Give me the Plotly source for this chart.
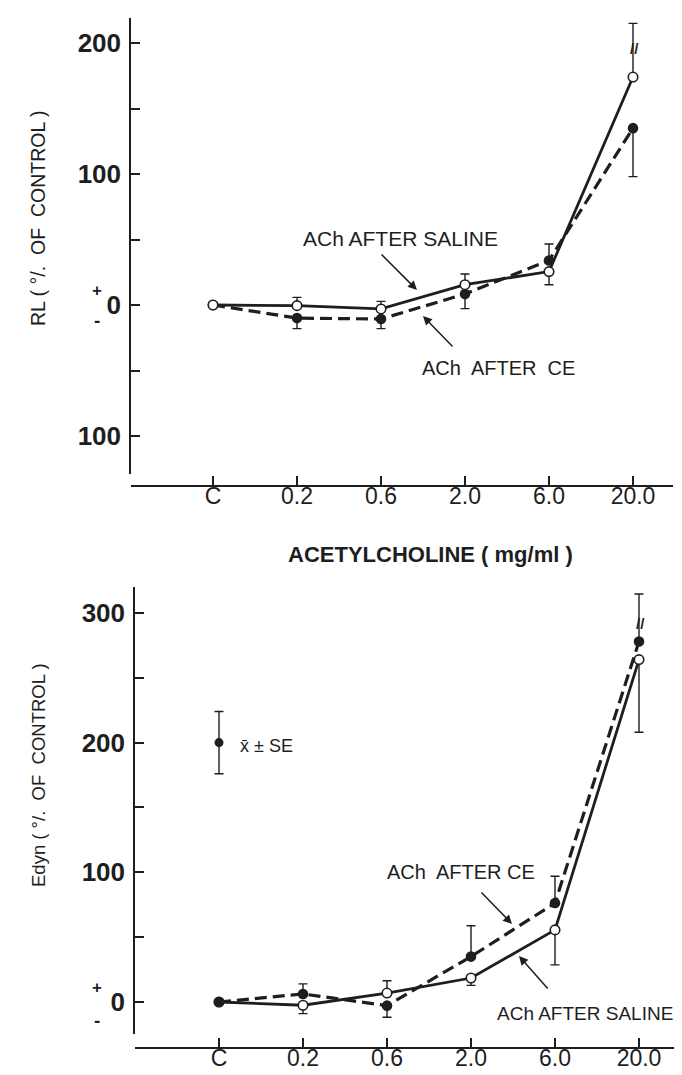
import plotly.graph_objects as go

# ---------------- data ----------------
categories = ["C", "0.2", "0.6", "2.0", "6.0", "20.0"]

# Top panel: RL (% of control)
rl_saline = [0, -0.5, -3, 15.5, 25.5, 174]
rl_saline_err_up = [None, 6.3, 5.8, 8.2, 0, 41]
rl_saline_err_down = [None, 0, 0, 0, 10, 0]
rl_ce = [0, -10, -10.7, 8.4, 34, 135]
rl_ce_err_up = [None, 0, 0, 0, 12.6, 0]
rl_ce_err_down = [None, 8, 7.3, 11.2, 0, 37]

# Bottom panel: Edyn (% of control)
edyn_saline = [0, -2.5, 6.9, 18.5, 55.6, 264]
edyn_saline_err_up = [None, 0, 9.5, 0, 0, 0]
edyn_saline_err_down = [None, 6.5, 0, 5.7, 27, 56]
edyn_ce = [0, 6.2, -2.8, 35, 76.3, 278]
edyn_ce_err_up = [None, 7.8, 0, 23.8, 20.7, 36.6]
edyn_ce_err_down = [None, 0, 9, 0, 0, 0]

# key symbol (mean +/- SE)
key_x = [0]
key_y = [200]
key_err = [24]

top_ticks = [-100, -50, 0, 50, 100, 150, 200]
top_ticktext = ["100", "", "0", "", "100", "", "200"]
bot_ticks = [0, 50, 100, 150, 200, 250, 300]
bot_ticktext = ["0", "", "100", "", "200", "", "300"]

# ---------------- layout helpers ----------------
W, H = 682, 1075
def px(x):
    return x / W
def py(y):
    return 1 - y / H

FONT = "Liberation Sans, Arial, sans-serif"
INK = "#1e1e1e"
xs = list(range(len(categories)))

fig = go.Figure()

def add_series(y, up, down, xa, ya, filled, dash):
    fig.add_trace(go.Scatter(
        x=xs, y=y, xaxis=xa, yaxis=ya, mode="lines+markers",
        line=dict(color=INK, width=3.2 if dash else 2.8, dash=dash),
        marker=dict(size=9 if filled else 9.5,
                    color=INK if filled else "white",
                    line=dict(color=INK, width=1.6)),
        error_y=dict(type="data", symmetric=False, array=up, arrayminus=down,
                     color=INK, thickness=1.4, width=4.5),
        showlegend=False, hoverinfo="skip"))

add_series(rl_ce, rl_ce_err_up, rl_ce_err_down, "x", "y", True, "12px,6px")
add_series(rl_saline, rl_saline_err_up, rl_saline_err_down, "x", "y", False, None)
add_series(edyn_saline, edyn_saline_err_up, edyn_saline_err_down, "x2", "y2", False, None)
add_series(edyn_ce, edyn_ce_err_up, edyn_ce_err_down, "x2", "y2", True, "12px,6px")

fig.add_trace(go.Scatter(
    x=key_x, y=key_y, xaxis="x2", yaxis="y2", mode="markers",
    marker=dict(size=9, color=INK),
    error_y=dict(type="data", array=key_err, color=INK, thickness=1.4, width=4.5),
    showlegend=False, hoverinfo="skip"))

axis_common = dict(showline=True, linecolor=INK, linewidth=1.5, showgrid=False,
                   zeroline=False, ticks="inside", tickcolor=INK, tickwidth=1.5)

# panel geometry (pixels)
tx0, tx1, tc = 123, 665, 205
bx0, bx1, bc = 127, 682, 211
step = 84.0

xtickfont = dict(family=FONT, size=23, color=INK)
ytickfont = dict(family=FONT, size=26, color=INK, weight="bold")

fig.update_layout(
    width=W, height=H, margin=dict(l=0, r=0, t=0, b=0),
    paper_bgcolor="white", plot_bgcolor="white",
    xaxis=dict(**axis_common, domain=[px(tx0), px(tx1)],
               range=[-(tc - tx0) / step, -(tc - tx0) / step + (tx1 - tx0) / step],
               anchor="free", position=py(478), ticklen=9,
               tickvals=xs, ticktext=categories, ticklabelstandoff=-10,
               tickfont=xtickfont),
    yaxis=dict(**axis_common, domain=[py(466), py(10)],
               range=[(297 - 466) / 1.31, (297 - 10) / 1.31], anchor="x",
               ticklen=9, tickvals=top_ticks, ticktext=top_ticktext,
               ticklabelstandoff=3, tickfont=ytickfont),
    xaxis2=dict(**axis_common, domain=[px(bx0), 1.0],
                range=[-(bc - bx0) / step, -(bc - bx0) / step + (bx1 - bx0) / step],
                anchor="free", position=py(1040), ticklen=9,
                tickvals=xs, ticktext=categories, ticklabelstandoff=-10,
                tickfont=xtickfont),
    yaxis2=dict(**axis_common, domain=[py(1026), py(579)],
                range=[(994 - 1026) / 1.297, (994 - 579) / 1.297], anchor="x2",
                ticklen=9, tickvals=bot_ticks, ticktext=bot_ticktext,
                ticklabelstandoff=3, tickfont=ytickfont),
)

def txt(x, y, s, size=18, angle=0, xanchor="center", bold=False):
    fig.add_annotation(xref="paper", yref="paper", x=px(x), y=py(y), text=s,
                       showarrow=False, textangle=angle, xanchor=xanchor, yanchor="middle",
                       font=dict(family=FONT, size=size, color=INK,
                                 weight="bold" if bold else "normal"))

def arrow(hx, hy, tx, ty):
    fig.add_annotation(xref="paper", yref="paper", x=px(hx), y=py(hy), text="",
                       showarrow=True, ax=tx - hx, ay=ty - hy, axref="pixel", ayref="pixel",
                       arrowhead=2, arrowsize=1.2, arrowwidth=1.5, arrowcolor=INK)

# titles
txt(30, 211, "RL ( °/.  OF  CONTROL )", size=19.5, angle=-90)
txt(30, 767, "Edyn ( °/.  OF  CONTROL )", size=18.5, angle=-90)
txt(422, 546, "ACETYLCHOLINE ( mg/ml )", size=22, bold=True)

# +/- signs near zero
for yy in (282, 979):
    txt(89, yy, "+", size=17, bold=True)
for yy in (312, 1012):
    txt(89, yy, "-", size=19, bold=True)

# curve labels
txt(392, 230, "ACh AFTER SALINE", size=21)
txt(490, 360, "ACh  AFTER  CE", size=20)
txt(453, 864, "ACh  AFTER CE", size=20)
txt(577, 1005, "ACh AFTER SALINE", size=19)
txt(230, 738, "x\u0304 \u00b1 SE", size=18, xanchor="left")

arrow(409, 282, 372, 245)
arrow(415, 308, 446, 340)
arrow(504, 916, 472, 883)
arrow(511, 948, 541, 982)

# axis-break marks on the largest error bars
txt(626, 41, "//", size=15, bold=True)
txt(632, 615, "//", size=15, bold=True)

fig.write_html("out.html")
